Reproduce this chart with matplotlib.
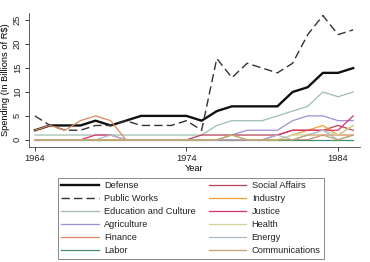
import matplotlib
matplotlib.use("Agg")
import matplotlib.pyplot as plt
import numpy as np

plt.rcParams["font.family"] = ["Liberation Sans", "DejaVu Sans"]

years = np.arange(1964, 1986)

# spending by area, billions of R$
defense = [2, 3, 3, 3, 4, 3, 4, 5, 5, 5, 5, 4, 6, 7, 7, 7, 7, 10, 11, 14, 14, 15]
public_works = [5, 3, 2, 2, 3, 3, 4, 3, 3, 3, 4, 2, 17, 13, 16, 15, 14, 16, 22, 26, 22, 23]
education = [1, 1, 1, 1, 1, 1, 1, 1, 1, 1, 1, 1, 3, 4, 4, 4, 5, 6, 7, 10, 9, 10]
agriculture = [0, 0, 0, 0, 0, 0, 0, 0, 0, 0, 0, 0, 0, 1, 2, 2, 2, 4, 5, 5, 4, 4]
finance = [2, 3, 2, 4, 5, 4, 0, 0, 0, 0, 0, 0, 0, 0, 0, 0, 0, 0, 0, 1, 1, 1]
labor = [0] * 22
social_affairs = [0, 0, 0, 0, 0, 0, 0, 0, 0, 0, 0, 1, 1, 1, 1, 1, 1, 2, 2, 2, 3, 2]
industry = [0, 0, 0, 0, 0, 0, 0, 0, 0, 0, 0, 0, 0, 0, 0, 0, 0, 1, 2, 3, 1, 3]
justice = [0, 0, 0, 0, 1, 1, 0, 0, 0, 0, 0, 0, 0, 0, 0, 0, 1, 2, 2, 2, 2, 5]
health = [0, 0, 0, 0, 0, 0, 0, 0, 0, 0, 0, 0, 0, 1, 0, 0, 0, 1, 1, 2, 1, 3]
energy = [0, 0, 0, 0, 0, 1, 0, 0, 0, 0, 0, 0, 0, 0, 0, 0, 1, 0, 1, 2, 0, 1]
communications = [0, 0, 0, 0, 0, 0, 0, 0, 0, 0, 0, 0, 0, 1, 0, 0, 0, 0, 1, 1, 0, 1]

series = [
    ("Defense", defense, "#111111", "-", 1.7),
    ("Public Works", public_works, "#333333", (0, (6, 3)), 1.0),
    ("Education and Culture", education, "#9dbfae", "-", 0.9),
    ("Agriculture", agriculture, "#9b90d6", "-", 0.9),
    ("Finance", finance, "#d98a5c", "-", 0.9),
    ("Labor", labor, "#3f8f74", "-", 0.9),
    ("Social Affairs", social_affairs, "#b8405a", "-", 0.9),
    ("Industry", industry, "#f0a030", "-", 0.9),
    ("Justice", justice, "#e0306a", "-", 0.9),
    ("Health", health, "#d6d2a0", "-", 0.9),
    ("Energy", energy, "#a9bccf", "-", 0.9),
    ("Communications", communications, "#c4a468", "-", 0.9),
]

fig = plt.figure(figsize=(3.7, 2.62), dpi=100)
ax = fig.add_axes([0.078, 0.439, 0.895, 0.511])

handles = []
for name, vals, col, ls, lw in series:
    (h,) = ax.plot(years, vals, color=col, ls=ls, lw=lw, label=name)
    handles.append(h)

ax.set_xlim(1963.6, 1985.45)
ax.set_ylim(-1.5, 26.5)
ax.set_xticks([1964, 1974, 1984])
ax.set_yticks([0, 5, 10, 15, 20, 25])
ax.set_yticklabels(["0", "5", "10", "15", "20", "25"], rotation=90, va="center")
ax.tick_params(labelsize=6.7, length=3, width=0.6, colors="#222222", pad=2)
for s in ("top", "right"):
    ax.spines[s].set_visible(False)
for s in ("left", "bottom"):
    ax.spines[s].set_linewidth(0.6)
    ax.spines[s].set_color("#444444")

ax.set_xlabel("Year", fontsize=6.7, labelpad=1)
ax.set_ylabel("Spending (In Billions of R\\$)", fontsize=6.7, labelpad=2)

# legend: two columns, first six left, rest right
leg = fig.legend(
    handles=handles,
    loc="upper center",
    bbox_to_anchor=(191 / 370, 1 - 173 / 262),
    ncol=2,
    fontsize=6.7,
    handlelength=4.0,
    handletextpad=0.6,
    columnspacing=1.4,
    labelspacing=0.42,
    frameon=True,
    fancybox=False,
    edgecolor="#555555",
    borderpad=0.4,
)
leg.get_frame().set_linewidth(0.6)
for t in leg.get_texts():
    t.set_color("#222222")

fig.savefig("out.png", dpi=100)
